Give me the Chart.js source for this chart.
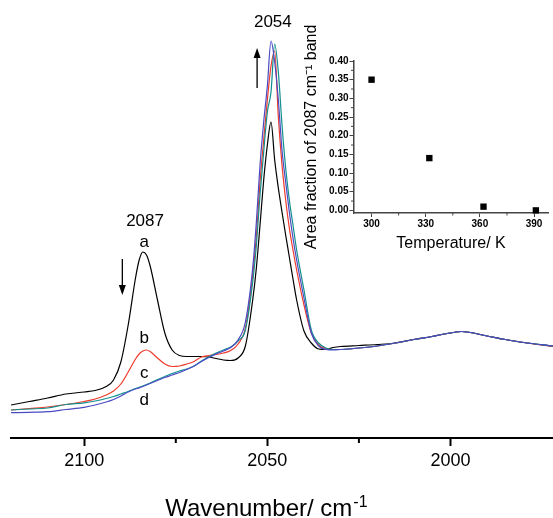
<!DOCTYPE html>
<html>
<head>
<meta charset="utf-8">
<script src="https://cdn.jsdelivr.net/npm/chart.js@4.4.0/dist/chart.umd.min.js"></script>
<style>
  html, body { margin: 0; padding: 0; background: #fff; }
  #wrap { position: relative; width: 553px; height: 518px; overflow: hidden; }
  #main { position: absolute; left: 0; top: 0; }
  #inset { position: absolute; left: 290px; top: 0; }
</style>
</head>
<body>
<div id="wrap">
  <canvas id="main" width="553" height="518"></canvas>
  <canvas id="inset" width="263" height="253"></canvas>
</div>
<script>
// IR spectra, absorbance in arbitrary units (no y axis in the figure)
const wavenumbers = [2120, 2115, 2110, 2105, 2100, 2097, 2094, 2092, 2090, 2088,
  2086, 2085, 2084, 2083, 2082, 2080, 2078, 2076, 2074, 2072,
  2070, 2068, 2066, 2064, 2062, 2060, 2058, 2056, 2054, 2053,
  2052, 2051, 2050, 2049, 2048, 2047, 2046, 2045, 2044, 2043,
  2042, 2040, 2038, 2036, 2034, 2032, 2030, 2025, 2020, 2015,
  2010, 2005, 2003, 2000, 1997, 1990, 1985, 1980, 1972];

const spectrumA = [33, 36.5, 40, 44, 46, 47.5, 51.5, 58, 76, 113,
  160, 178, 186, 183, 172, 138, 105, 88, 82.5, 81.5,
  81.5, 81.5, 81, 79.5, 78, 77.5, 80, 92, 138, 170,
  213, 258, 293, 316, 278, 250, 226, 203, 181, 159,
  138, 107, 95, 89, 88.5, 90.5, 91.5, 92.5, 93.5, 95,
  98.5, 101.5, 103, 105, 106.5, 102, 98.5, 95.5, 92];

const spectrumB = [28, 29.5, 31, 33.5, 36.5, 39, 43, 47, 54, 66,
  79, 84, 87, 88, 86.5, 80, 74, 71.5, 72, 74,
  76.5, 81, 82.5, 83.5, 85, 87.5, 94, 110, 163, 202,
  256, 298, 338, 372, 387, 321, 273, 238, 210, 188,
  168, 133, 105, 93, 89.5, 88.5, 88.5, 90, 92, 95,
  98.5, 101.5, 103, 105, 106.5, 102, 98.5, 95.5, 91.5];

const spectrumC = [28, 29, 30, 33.5, 35.2, 37, 39.5, 41.5, 44, 46.5,
  49.5, 50.7, 52, 53.5, 55, 58.5, 61.5, 64.5, 67, 69,
  72, 77, 81, 85, 88, 91, 97, 108, 156, 193,
  243, 286, 326, 346, 394, 366, 313, 270, 238, 213,
  188, 148, 108, 95, 90, 88.5, 88.5, 90, 92, 95,
  98.5, 101.5, 103, 105, 106.5, 102, 98.5, 95.5, 92];

const spectrumD = [25.3, 25.7, 26.3, 28.5, 30.7, 33, 36, 38.5, 42, 46,
  49, 50, 51.5, 53, 54.5, 57.5, 60.5, 63, 65.5, 68.5,
  72, 76.5, 80.5, 84, 87, 90.5, 98, 116, 170, 216,
  273, 316, 352, 397, 376, 338, 288, 256, 226, 200,
  178, 140, 105, 92, 88.5, 88, 88.5, 90, 92, 95,
  98.5, 101.5, 103, 105, 106.5, 102, 98.5, 95.5, 92];

const wavenumberTicks = [2100, 2050, 2000];
const wavenumberMinor = [2075, 2025];

// inset: area fraction of the 2087 cm-1 band vs temperature
const temperatures = [300, 332, 362, 391];
const areaFractions = [0.35, 0.14, 0.01, 0.00];
const temperatureTicks = [300, 330, 360, 390];
const temperatureMinor = [315, 345, 375];
const fractionTicks = [0, 0.05, 0.10, 0.15, 0.20, 0.25, 0.30, 0.35, 0.40];
const fractionMinor = [0.025, 0.075, 0.125, 0.175, 0.225, 0.275, 0.325, 0.375];

const FONT = '"Liberation Sans", Arial, sans-serif';
Chart.defaults.font.family = FONT;
Chart.defaults.color = '#000';

// text labels and arrows placed in data coordinates
const notes = [
  { text: '2087', wn: 2083.4, a: 212 },
  { text: 'a', wn: 2083.6, a: 191 },
  { text: 'b', wn: 2083.6, a: 95 },
  { text: 'c', wn: 2083.6, a: 60 },
  { text: 'd', wn: 2083.6, a: 33 },
  { text: '2054', wn: 2048.5, a: 411 }
];
const arrows = [
  { wn: 2089.6, from: 179, to: 143 },
  { wn: 2052.8, from: 350, to: 390 }
];

function drawArrow(ctx, x, y1, y2) {
  const dir = y2 > y1 ? 1 : -1;
  ctx.beginPath();
  ctx.moveTo(x, y1);
  ctx.lineTo(x, y2 - dir * 8);
  ctx.stroke();
  ctx.beginPath();
  ctx.moveTo(x, y2);
  ctx.lineTo(x - 3.5, y2 - dir * 10);
  ctx.lineTo(x + 3.5, y2 - dir * 10);
  ctx.closePath();
  ctx.fill();
}

const spectrumNotes = {
  id: 'spectrumNotes',
  afterDraw(chart) {
    const { ctx, scales: { x, y } } = chart;
    ctx.save();
    ctx.strokeStyle = '#000';
    ctx.fillStyle = '#000';
    // minor ticks
    ctx.lineWidth = 2;
    wavenumberMinor.forEach(v => {
      const px = x.getPixelForValue(v);
      ctx.beginPath();
      ctx.moveTo(px, x.top);
      ctx.lineTo(px, x.top + 5);
      ctx.stroke();
    });
    // labels
    ctx.font = '17px ' + FONT;
    ctx.textAlign = 'center';
    ctx.textBaseline = 'alphabetic';
    notes.forEach(n => ctx.fillText(n.text, x.getPixelForValue(n.wn), y.getPixelForValue(n.a)));
    ctx.lineWidth = 1.3;
    arrows.forEach(a => drawArrow(ctx, x.getPixelForValue(a.wn), y.getPixelForValue(a.from), y.getPixelForValue(a.to)));
    // axis title with superscript
    const main = 'Wavenumber/ cm', sup = '-1';
    ctx.font = '24px ' + FONT;
    const w1 = ctx.measureText(main).width;
    ctx.font = '16px ' + FONT;
    const w2 = ctx.measureText(sup).width;
    const start = x.getPixelForValue(2050.4) - (w1 + w2) / 2;
    ctx.textAlign = 'left';
    ctx.font = '24px ' + FONT;
    ctx.fillText(main, start, x.bottom - 2);
    ctx.font = '16px ' + FONT;
    ctx.fillText(sup, start + w1 + 1, x.bottom - 11);
    ctx.restore();
  }
};

const series = [
  { label: 'a', data: spectrumA, color: '#000000', order: 4 },
  { label: 'b', data: spectrumB, color: '#ee3b2b', order: 3 },
  { label: 'c', data: spectrumC, color: '#138f8f', order: 2 },
  { label: 'd', data: spectrumD, color: '#4a4ac4', order: 1 }
];

new Chart(document.getElementById('main'), {
  type: 'line',
  data: {
    datasets: series.map(s => ({
      label: s.label,
      data: wavenumbers.map((wn, i) => ({ x: wn, y: s.data[i] })),
      borderColor: s.color,
      borderWidth: 1.2,
      pointRadius: 0,
      cubicInterpolationMode: 'monotone',
      fill: false,
      order: s.order
    }))
  },
  options: {
    responsive: false,
    animation: false,
    layout: { padding: { left: 11, right: 0, top: 0, bottom: 0 } },
    plugins: { legend: { display: false }, tooltip: { enabled: false } },
    scales: {
      x: {
        type: 'linear',
        reverse: true,
        min: 1972,
        max: 2120,
        afterBuildTicks: scale => { scale.ticks = wavenumberTicks.map(v => ({ value: v })); },
        afterFit: scale => { scale.height = 80; },
        grid: { drawOnChartArea: false, tickLength: 8, tickWidth: 2, color: '#000' },
        border: { color: '#000', width: 2 },
        ticks: { font: { size: 18 }, padding: 4, maxRotation: 0, callback: v => String(v) }
      },
      y: { display: false, min: 0, max: 438 }
    }
  },
  plugins: [spectrumNotes]
});

const insetMinor = {
  id: 'insetMinor',
  afterDraw(chart) {
    const { ctx, scales: { x, y } } = chart;
    ctx.save();
    ctx.strokeStyle = '#444';
    ctx.lineWidth = 1;
    temperatureMinor.forEach(v => {
      const px = x.getPixelForValue(v);
      ctx.beginPath();
      ctx.moveTo(px, x.top);
      ctx.lineTo(px, x.top + 2.5);
      ctx.stroke();
    });
    fractionMinor.forEach(v => {
      const py = y.getPixelForValue(v);
      ctx.beginPath();
      ctx.moveTo(y.right, py);
      ctx.lineTo(y.right - 2.5, py);
      ctx.stroke();
    });
    ctx.restore();
  }
};

new Chart(document.getElementById('inset'), {
  type: 'scatter',
  data: {
    datasets: [{
      data: temperatures.map((t, i) => ({ x: t, y: areaFractions[i] })),
      pointStyle: 'rect',
      pointRadius: 4.5,
      borderWidth: 0,
      backgroundColor: '#000',
      clip: false
    }]
  },
  options: {
    responsive: false,
    animation: false,
    layout: { padding: { left: 12, right: 0, top: 61, bottom: 0 } },
    plugins: { legend: { display: false }, tooltip: { enabled: false } },
    scales: {
      x: {
        type: 'linear',
        min: 290,
        max: 398,
        afterBuildTicks: scale => { scale.ticks = temperatureTicks.map(v => ({ value: v })); },
        afterFit: scale => { scale.height = 40; },
        grid: { drawOnChartArea: false, tickLength: 4, color: '#444' },
        border: { color: '#444', width: 1.5 },
        ticks: { font: { size: 10, weight: 'bold' }, padding: 1, maxRotation: 0, callback: v => String(v) },
        title: { display: true, text: 'Temperature/ K', font: { size: 16 }, padding: 0 }
      },
      y: {
        type: 'linear',
        min: -0.007,
        max: 0.40,
        afterBuildTicks: scale => { scale.ticks = fractionTicks.map(v => ({ value: v })); },
        afterFit: scale => { scale.width = 51.5; },
        grid: { drawOnChartArea: false, tickLength: 4, color: '#444' },
        border: { color: '#444', width: 1.5 },
        ticks: { font: { size: 10, weight: 'bold' }, padding: 1, callback: v => v.toFixed(2) },
        title: { display: true, text: 'Area fraction of 2087 cm\u207B\u00B9 band', font: { size: 16 }, padding: 0 }
      }
    }
  },
  plugins: [insetMinor]
});
</script>
</body>
</html>
